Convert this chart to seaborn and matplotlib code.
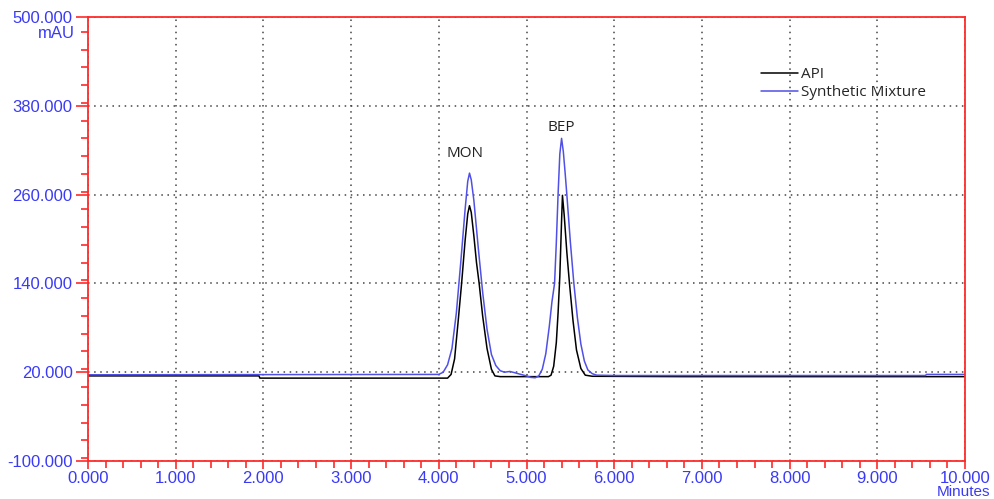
import pandas as pd
import matplotlib.pyplot as plt
import matplotlib.ticker as mticker
import seaborn as sb

tiempo_api = [0.00, 1.95, 1.96, 4.10, 4.14, 4.18, 4.22, 4.26, 4.30, 4.33,
              4.35, 4.37, 4.40, 4.43, 4.46, 4.50, 4.55, 4.60, 4.64, 4.70,
              5.00, 5.25, 5.28, 5.31, 5.34, 5.36, 5.38, 5.40, 5.41, 5.43,
              5.46, 5.49, 5.53, 5.57, 5.62, 5.67, 5.75, 6.80, 10.00]
senal_api = [15.0, 15.0, 12.0, 12.0, 17, 38, 88, 140, 198, 234,
             245, 236, 204, 168, 140, 96, 52, 24, 15, 14,
             14, 14, 16, 28, 60, 100, 150, 225, 259, 232,
             182, 140, 90, 50, 25, 16, 14.5, 14, 14]

tiempo_mezcla = [0.00, 4.00, 4.05, 4.10, 4.15, 4.20, 4.25, 4.30, 4.33, 4.35,
                 4.37, 4.40, 4.45, 4.50, 4.55, 4.60, 4.65, 4.70, 4.75, 4.81,
                 4.86, 4.92, 5.00, 5.05, 5.10, 5.14, 5.18, 5.22, 5.26, 5.29,
                 5.32, 5.34, 5.36, 5.38, 5.40, 5.42, 5.44, 5.46, 5.50, 5.54,
                 5.58, 5.62, 5.66, 5.70, 5.75, 5.80, 6.00, 9.55, 9.56, 10.00]
senal_mezcla = [16.5, 17, 20, 30, 52, 100, 168, 240, 278, 289,
                280, 252, 188, 128, 78, 44, 29, 22, 20, 21,
                19.5, 17.5, 15, 13, 12.5, 15, 24, 45, 82, 115,
                140, 195, 260, 315, 336, 318, 290, 260, 196, 140,
                94, 58, 35, 23, 18, 16, 15.5, 15.5, 17, 17]

nombres_series = ["API", "Synthetic Mixture"]
picos = ["MON", "BEP"]
tiempo_picos = [4.30, 5.40]
altura_picos = [316, 351]

df = pd.concat([
    pd.DataFrame({"t": tiempo_api, "mAU": senal_api, "serie": nombres_series[0]}),
    pd.DataFrame({"t": tiempo_mezcla, "mAU": senal_mezcla, "serie": nombres_series[1]}),
])

sb.set_style("white")
plt.rcParams["font.family"] = ["Liberation Sans", "DejaVu Sans"]

azul_texto = "#3a3af5"
rojo = "#ff2a2a"

fig = plt.figure(figsize=(9.95, 4.99), dpi=100)
ax = fig.add_axes([88 / 995, 38 / 499, 877 / 995, 444 / 499])

sb.lineplot(data=df, x="t", y="mAU", hue="serie", estimator=None, sort=False,
            palette={"API": "black", "Synthetic Mixture": "#5050e6"},
            linewidth=1.1, ax=ax)

ax.set_xlim(0, 10)
ax.set_ylim(-100, 500)
ax.xaxis.set_major_locator(mticker.MultipleLocator(1))
ax.xaxis.set_minor_locator(mticker.MultipleLocator(0.2))
ax.yaxis.set_major_locator(mticker.FixedLocator([-100, 20, 140, 260, 380, 500]))
ax.yaxis.set_minor_locator(mticker.MultipleLocator(24))
ax.xaxis.set_major_formatter(mticker.FormatStrFormatter("%.3f"))
ax.yaxis.set_major_formatter(mticker.FormatStrFormatter("%.3f"))

ax.grid(True, which="major", linestyle=(0, (1, 3)), color="#444444", linewidth=1.1)
for s in ax.spines.values():
    s.set_color(rojo)
    s.set_linewidth(1.3)
ax.tick_params(which="both", direction="out", color=rojo, labelcolor=azul_texto,
               labelsize=12, left=True, bottom=True)
ax.tick_params(which="major", length=9, width=1.2)
ax.tick_params(which="minor", length=5, width=1.2)
ax.tick_params(axis="x", which="major", length=6, pad=1.5)
ax.tick_params(axis="y", which="major", pad=2)
ax.set_xlabel("")
ax.set_ylabel("")

for nombre, tx, ty in zip(picos, tiempo_picos, altura_picos):
    ax.text(tx, ty, nombre, ha="center", va="center", fontsize=11,
            color="#222222", family="Open Sans")

ax.legend(loc="upper left", bbox_to_anchor=(0.752, 0.918), frameon=False,
          handlelength=2.4, handletextpad=0.2, labelspacing=0.2,
          prop={"family": "Open Sans", "size": 11})

fig.text(75 / 995, 1 - 34 / 499, "mAU", ha="right", va="center",
         color=azul_texto, fontsize=12)
fig.text(964 / 995, 0, "Minutes", ha="center", va="bottom",
         color=azul_texto, fontsize=11)

fig.savefig("out.png", dpi=100)
